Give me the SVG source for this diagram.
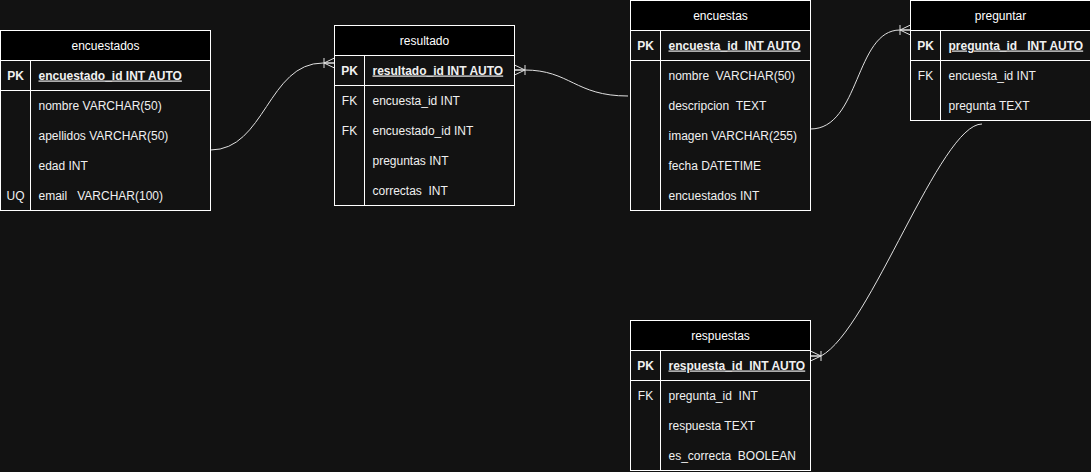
<svg xmlns="http://www.w3.org/2000/svg" width="1091" height="472" viewBox="0 0 1091 472">
<defs>
<style>
.hdr{fill:#000000;stroke:#ffffff;stroke-width:1}
.body{fill:none;stroke:#ffffff;stroke-width:1}
.ln{stroke:#ffffff;stroke-width:1}
text{font-family:"Liberation Sans",Arial,Helvetica,sans-serif;font-size:12px;fill:#f0f0f0;white-space:pre}
.title{text-anchor:middle;fill:#ffffff}
.key{text-anchor:middle}
.keyb{text-anchor:middle;font-weight:bold}
.pk{font-weight:bold;text-decoration:underline}
.edge{fill:none;stroke:#e0e0e0;stroke-width:1}
</style>
<marker id="crow" markerUnits="userSpaceOnUse" markerWidth="14" markerHeight="14" viewBox="-12 -7 14 14" refX="0" refY="0" orient="auto-start-reverse" overflow="visible">
<path d="M-10.5,0 L0,-5 M-10.5,0 L0,0 M-10.5,0 L0,5 M-10.5,-5 L-10.5,5" fill="none" stroke="#e0e0e0" stroke-width="1"/>
</marker>
</defs>
<rect x="0" y="0" width="1091" height="472" fill="#121212"/>

<g id="connectors">
<path class="edge" d="M210.5,150 C265,150 268,63 323,63 L334.5,63" marker-end="url(#crow)"/>
<path class="edge" d="M514.5,70 L524.5,70 C570,70 575,96 628,96" marker-start="url(#crow)"/>
<path class="edge" d="M810.5,129 C860,129 855,30 900,30 L910.5,30" marker-end="url(#crow)"/>
<path class="edge" d="M982,124 C940,124 870,330 821,356 L810.5,356" marker-end="url(#crow)"/>
</g>

<g id="encuestados">
<rect class="hdr" x="0.5" y="30.5" width="210" height="30"/>
<rect class="body" x="0.5" y="60.5" width="210" height="150"/>
<line class="ln" x1="0.5" y1="90.5" x2="210.5" y2="90.5"/>
<line class="ln" x1="30.5" y1="60.5" x2="30.5" y2="210.5"/>
<text class="title" x="105.5" y="49.5">encuestados</text>
<text class="keyb" x="15.5" y="79.5">PK</text>
<text class="pk" x="38.5" y="79.5">encuestado_id INT AUTO</text>
<text x="38.5" y="109.5">nombre VARCHAR(50)</text>
<text x="38.5" y="139.5">apellidos VARCHAR(50)</text>
<text x="38.5" y="169.5">edad INT</text>
<text class="key" x="15.5" y="199.5">UQ</text>
<text x="38.5" y="199.5">email   VARCHAR(100)</text>
</g>

<g id="resultado">
<rect class="hdr" x="334.5" y="25.5" width="180" height="30"/>
<rect class="body" x="334.5" y="55.5" width="180" height="150"/>
<line class="ln" x1="334.5" y1="85.5" x2="514.5" y2="85.5"/>
<line class="ln" x1="364.5" y1="55.5" x2="364.5" y2="205.5"/>
<text class="title" x="424.5" y="44.5">resultado</text>
<text class="keyb" x="349.5" y="74.5">PK</text>
<text class="pk" x="372.5" y="74.5">resultado_id INT AUTO</text>
<text class="key" x="349.5" y="104.5">FK</text>
<text x="372.5" y="104.5">encuesta_id INT</text>
<text class="key" x="349.5" y="134.5">FK</text>
<text x="372.5" y="134.5">encuestado_id INT</text>
<text x="372.5" y="164.5">preguntas INT</text>
<text x="372.5" y="194.5">correctas  INT</text>
</g>

<g id="encuestas">
<rect class="hdr" x="630.5" y="0.5" width="180" height="30"/>
<rect class="body" x="630.5" y="30.5" width="180" height="180"/>
<line class="ln" x1="630.5" y1="60.5" x2="810.5" y2="60.5"/>
<line class="ln" x1="660.5" y1="30.5" x2="660.5" y2="210.5"/>
<text class="title" x="720.5" y="19.5">encuestas</text>
<text class="keyb" x="645.5" y="49.5">PK</text>
<text class="pk" x="668.5" y="49.5">encuesta_id  INT AUTO</text>
<text x="668.5" y="79.5">nombre  VARCHAR(50)</text>
<text x="668.5" y="109.5">descripcion  TEXT</text>
<text x="668.5" y="139.5">imagen VARCHAR(255)</text>
<text x="668.5" y="169.5">fecha DATETIME</text>
<text x="668.5" y="199.5">encuestados INT</text>
</g>

<g id="preguntar">
<rect class="hdr" x="910.5" y="0.5" width="180" height="30"/>
<rect class="body" x="910.5" y="30.5" width="180" height="90"/>
<line class="ln" x1="910.5" y1="60.5" x2="1090.5" y2="60.5"/>
<line class="ln" x1="940.5" y1="30.5" x2="940.5" y2="120.5"/>
<text class="title" x="1000.5" y="19.5">preguntar</text>
<text class="keyb" x="925.5" y="49.5">PK</text>
<text class="pk" x="948.5" y="49.5">pregunta_id   INT AUTO</text>
<text class="key" x="925.5" y="79.5">FK</text>
<text x="948.5" y="79.5">encuesta_id INT</text>
<text x="948.5" y="109.5">pregunta TEXT</text>
</g>

<g id="respuestas">
<rect class="hdr" x="630.5" y="320.5" width="180" height="30"/>
<rect class="body" x="630.5" y="350.5" width="180" height="120"/>
<line class="ln" x1="630.5" y1="380.5" x2="810.5" y2="380.5"/>
<line class="ln" x1="660.5" y1="350.5" x2="660.5" y2="470.5"/>
<text class="title" x="720.5" y="339.5">respuestas</text>
<text class="keyb" x="645.5" y="369.5">PK</text>
<text class="pk" x="668.5" y="369.5">respuesta_id  INT AUTO</text>
<text class="key" x="645.5" y="399.5">FK</text>
<text x="668.5" y="399.5">pregunta_id  INT</text>
<text x="668.5" y="429.5">respuesta TEXT</text>
<text x="668.5" y="459.5">es_correcta  BOOLEAN</text>
</g>
</svg>
